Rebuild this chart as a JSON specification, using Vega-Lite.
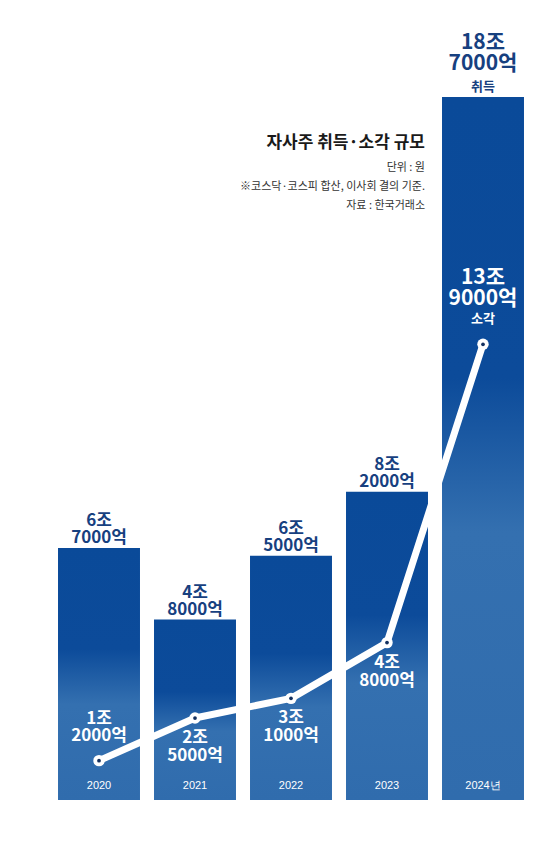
{
  "$schema": "https://vega.github.io/schema/vega-lite/v6.json",
  "width": 559,
  "height": 800,
  "padding": {"left": 0, "right": 0, "top": 0, "bottom": 41},
  "autosize": {"type": "none"},
  "background": "#ffffff",
  "config": {
    "view": {"stroke": null},
    "font": "Noto Sans CJK KR",
    "text": {"font": "Noto Sans CJK KR"}
  },
  "title": {
    "text": "자사주 취득·소각 규모",
    "subtitle": ["단위 : 원", "※코스닥·코스피 합산, 이사회 결의 기준.", "자료 : 한국거래소"],
    "anchor": "end",
    "frame": "group",
    "orient": "top",
    "offset": -212,
    "dx": -134,
    "font": "Noto Sans CJK KR",
    "fontSize": 17,
    "fontWeight": "bold",
    "color": "#1a1a1a",
    "subtitleFont": "Noto Sans CJK KR",
    "subtitleFontSize": 11,
    "subtitleColor": "#333333",
    "subtitlePadding": 10,
    "subtitleLineHeight": 19
  },
  "data": {
    "values": [
      {"year": "2020", "yearLabel": "2020", "acq": 6.7, "can": 1.2, "acqLabel": "6조\n7000억", "canLabel": "1조\n2000억"},
      {"year": "2021", "yearLabel": "2021", "acq": 4.8, "can": 2.5, "acqLabel": "4조\n8000억", "canLabel": "2조\n5000억"},
      {"year": "2022", "yearLabel": "2022", "acq": 6.5, "can": 3.1, "acqLabel": "6조\n5000억", "canLabel": "3조\n1000억"},
      {"year": "2023", "yearLabel": "2023", "acq": 8.2, "can": 4.8, "acqLabel": "8조\n2000억", "canLabel": "4조\n8000억"},
      {"year": "2024", "yearLabel": "2024년", "acq": 18.7, "can": 13.9, "acqLabel": "18조\n7000억", "canLabel": "13조\n9000억", "acqName": "취득", "canName": "소각"}
    ]
  },
  "encoding": {
    "x": {
      "field": "year",
      "type": "nominal",
      "axis": null,
      "scale": {"range": [51, 531], "paddingInner": 0.146, "paddingOuter": 0.073}
    }
  },
  "layer": [
    {
      "mark": {
        "type": "bar",
        "fill": {
          "gradient": "linear",
          "x1": 0, "y1": 0, "x2": 0, "y2": 1,
          "stops": [
            {"offset": 0, "color": "#0a4a99"},
            {"offset": 0.4, "color": "#0c4b9a"},
            {"offset": 0.62, "color": "#3470b0"},
            {"offset": 1, "color": "#306cad"}
          ]
        }
      },
      "encoding": {
        "y": {"field": "acq", "type": "quantitative", "axis": null, "scale": {"domain": [0, 21.28], "nice": false}}
      }
    },
    {
      "transform": [{"filter": "datum.year != '2024'"}],
      "mark": {"type": "text", "baseline": "bottom", "dy": -18, "fontSize": 17, "fontWeight": "bold", "color": "#17407f", "lineBreak": "\n", "lineHeight": 17},
      "encoding": {
        "y": {"field": "acq", "type": "quantitative", "axis": null, "scale": {"domain": [0, 21.28], "nice": false}},
        "text": {"field": "acqLabel"}
      }
    },
    {
      "transform": [{"filter": "datum.year == '2024'"}],
      "mark": {"type": "text", "baseline": "bottom", "dy": -3, "fontSize": 13, "fontWeight": "bold", "color": "#17407f"},
      "encoding": {
        "y": {"field": "acq", "type": "quantitative", "axis": null, "scale": {"domain": [0, 21.28], "nice": false}},
        "text": {"field": "acqName"}
      }
    },
    {
      "transform": [{"filter": "datum.year == '2024'"}],
      "mark": {"type": "text", "baseline": "bottom", "dy": -44, "fontSize": 21, "fontWeight": "bold", "color": "#17407f", "lineBreak": "\n", "lineHeight": 21},
      "encoding": {
        "y": {"field": "acq", "type": "quantitative", "axis": null, "scale": {"domain": [0, 21.28], "nice": false}},
        "text": {"field": "acqLabel"}
      }
    },
    {
      "mark": {"type": "text", "baseline": "middle", "dy": -14, "fontSize": 11, "color": "#ffffff", "font": "Liberation Sans"},
      "encoding": {
        "y": {"datum": 0, "type": "quantitative", "axis": null, "scale": {"domain": [0, 21.28], "nice": false}},
        "text": {"field": "yearLabel"}
      }
    },
    {
      "mark": {"type": "line", "color": "#ffffff", "strokeWidth": 7, "strokeCap": "round", "strokeJoin": "round"},
      "encoding": {
        "y": {"field": "can", "type": "quantitative", "axis": null, "scale": {"domain": [0, 24.4], "nice": false}}
      }
    },
    {
      "mark": {"type": "point", "filled": true, "color": "#ffffff", "size": 130, "opacity": 1},
      "encoding": {
        "y": {"field": "can", "type": "quantitative", "axis": null, "scale": {"domain": [0, 24.4], "nice": false}}
      }
    },
    {
      "mark": {"type": "point", "filled": true, "color": "#13305f", "size": 14, "opacity": 1},
      "encoding": {
        "y": {"field": "can", "type": "quantitative", "axis": null, "scale": {"domain": [0, 24.4], "nice": false}}
      }
    },
    {
      "transform": [{"filter": "datum.year == '2020'"}],
      "mark": {"type": "text", "baseline": "bottom", "dy": -33, "fontSize": 17, "fontWeight": "bold", "color": "#ffffff", "lineBreak": "\n", "lineHeight": 17},
      "encoding": {
        "y": {"field": "can", "type": "quantitative", "axis": null, "scale": {"domain": [0, 24.4], "nice": false}},
        "text": {"field": "canLabel"}
      }
    },
    {
      "transform": [{"filter": "datum.year == '2021' || datum.year == '2022' || datum.year == '2023'"}],
      "mark": {"type": "text", "baseline": "top", "dy": 12, "fontSize": 17, "fontWeight": "bold", "color": "#ffffff", "lineBreak": "\n", "lineHeight": 18},
      "encoding": {
        "y": {"field": "can", "type": "quantitative", "axis": null, "scale": {"domain": [0, 24.4], "nice": false}},
        "text": {"field": "canLabel"}
      }
    },
    {
      "transform": [{"filter": "datum.year == '2024'"}],
      "mark": {"type": "text", "baseline": "bottom", "dy": -18, "fontSize": 13, "fontWeight": "bold", "color": "#ffffff"},
      "encoding": {
        "y": {"field": "can", "type": "quantitative", "axis": null, "scale": {"domain": [0, 24.4], "nice": false}},
        "text": {"field": "canName"}
      }
    },
    {
      "transform": [{"filter": "datum.year == '2024'"}],
      "mark": {"type": "text", "baseline": "bottom", "dy": -56, "fontSize": 21, "fontWeight": "bold", "color": "#ffffff", "lineBreak": "\n", "lineHeight": 21},
      "encoding": {
        "y": {"field": "can", "type": "quantitative", "axis": null, "scale": {"domain": [0, 24.4], "nice": false}},
        "text": {"field": "canLabel"}
      }
    }
  ],
  "resolve": {"scale": {"y": "independent"}}
}
